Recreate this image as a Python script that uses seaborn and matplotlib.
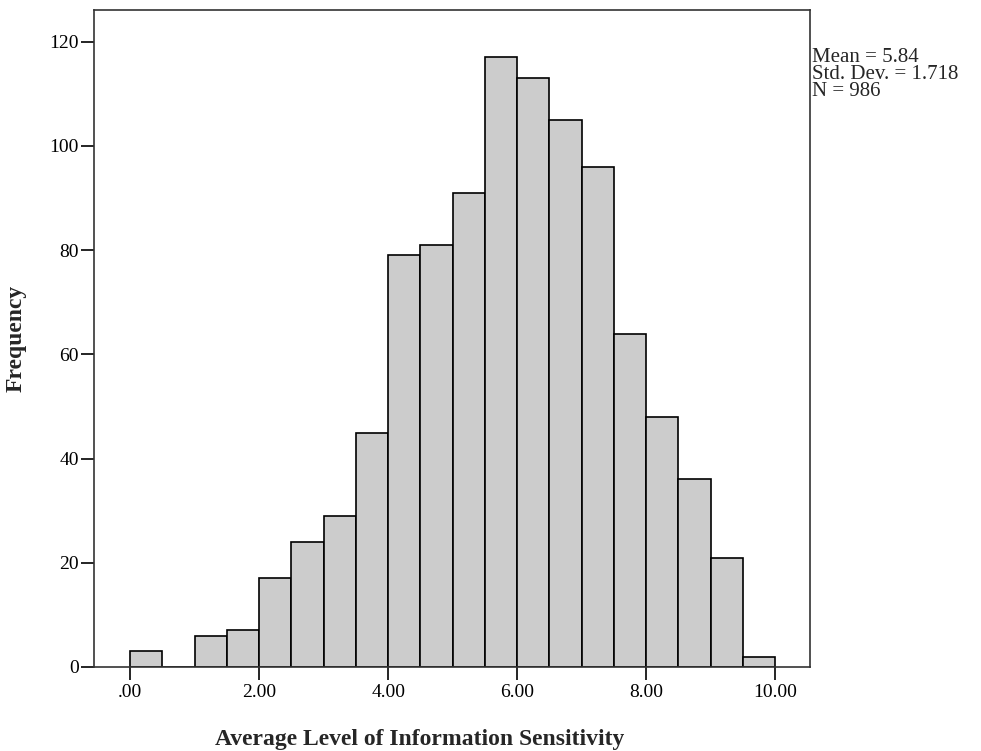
import numpy as np
import pandas as pd
import matplotlib
matplotlib.use("Agg")
import matplotlib.pyplot as plt
import seaborn as sns

bin_edges = [0.0, 0.5, 1.0, 1.5, 2.0, 2.5, 3.0, 3.5, 4.0, 4.5, 5.0,
             5.5, 6.0, 6.5, 7.0, 7.5, 8.0, 8.5, 9.0, 9.5, 10.0]
counts = [3, 0, 6, 7, 17, 24, 29, 45, 79, 81, 91,
          117, 113, 105, 96, 64, 48, 36, 21, 2]
x_ticks = [0, 2, 4, 6, 8, 10]
x_tick_labels = [".00", "2.00", "4.00", "6.00", "8.00", "10.00"]
y_ticks = [0, 20, 40, 60, 80, 100, 120]
stats_text = "Mean = 5.84\nStd. Dev. = 1.718\nN = 986"

sns.set_theme(style="white")
plt.rcParams["font.family"] = ["Liberation Serif", "DejaVu Serif"]

centers = [(bin_edges[i] + bin_edges[i + 1]) / 2 for i in range(len(counts))]
df = pd.DataFrame({"value": centers, "count": counts})

fig = plt.figure(figsize=(9.81, 7.51), dpi=100)
ax = fig.add_axes([0.0958, 0.1119, 0.7299, 0.8748])

sns.histplot(data=df, x="value", weights="count", bins=bin_edges,
             color="#cccccc", edgecolor="black", linewidth=1.2, alpha=1.0, ax=ax)

ax.set_xlim(-0.56, 10.54)
ax.set_ylim(0, 126.1)
ax.set_xticks(x_ticks)
ax.set_xticklabels(x_tick_labels)
ax.set_yticks(y_ticks)
ax.tick_params(axis="both", which="both", direction="out", length=9.5, width=1.2,
               colors="black", labelsize=14, bottom=True, left=True)
ax.tick_params(axis="y", pad=1.5)
ax.tick_params(axis="x", pad=3)
for s in ax.spines.values():
    s.set_visible(True)
    s.set_color("#333333")
    s.set_linewidth(1.2)

ax.set_xlabel("Average Level of Information Sensitivity", fontsize=17,
              fontweight="bold")
ax.xaxis.set_label_coords(0.455, -0.094)
ax.set_ylabel("Frequency", fontsize=17, fontweight="bold", labelpad=16)

fig.text(812 / 981, 1 - 48 / 751, stats_text, ha="left", va="top",
         fontsize=15, linespacing=0.85)

fig.savefig("out.png", dpi=100, facecolor="white")
